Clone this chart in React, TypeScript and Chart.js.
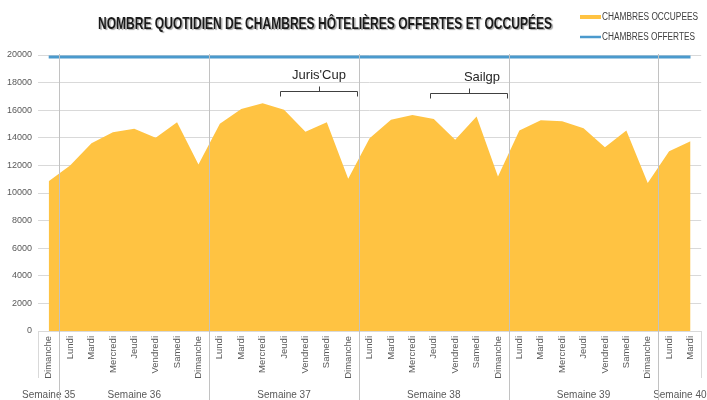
import React, { useEffect, useRef } from 'react';
import { Chart, registerables } from 'chart.js';

Chart.register(...registerables);

const days = [
  'Dimanche',
  'Lundi', 'Mardi', 'Mercredi', 'Jeudi', 'Vendredi', 'Samedi', 'Dimanche',
  'Lundi', 'Mardi', 'Mercredi', 'Jeudi', 'Vendredi', 'Samedi', 'Dimanche',
  'Lundi', 'Mardi', 'Mercredi', 'Jeudi', 'Vendredi', 'Samedi', 'Dimanche',
  'Lundi', 'Mardi', 'Mercredi', 'Jeudi', 'Vendredi', 'Samedi', 'Dimanche',
  'Lundi', 'Mardi',
];
const weekLabels = ['Semaine 35', 'Semaine 36', 'Semaine 37', 'Semaine 38', 'Semaine 39', 'Semaine 40'];
const weekDayCounts = [1, 7, 7, 7, 7, 2];

const occupiedRooms = [
  10850,
  12000, 13610, 14400, 14650, 14000, 15130, 12070,
  15010, 16090, 16500, 16040, 14430, 15130, 11040,
  13970, 15300, 15660, 15370, 13860, 15540, 11200,
  14530, 15270, 15200, 14690, 13320, 14530, 10720,
  13030, 13750,
];
const offeredRooms = [
  19850,
  19850, 19850, 19850, 19850, 19850, 19850, 19850,
  19850, 19850, 19850, 19850, 19850, 19850, 19850,
  19850, 19850, 19850, 19850, 19850, 19850, 19850,
  19850, 19850, 19850, 19850, 19850, 19850, 19850,
  19850, 19850,
];
const yTicks = [0, 2000, 4000, 6000, 8000, 10000, 12000, 14000, 16000, 18000, 20000];

const events = ["Juris'Cup", 'Sailgp'];
const eventStartDay = [11, 18];
const eventEndDay = [14, 21];

const titleText = 'NOMBRE QUOTIDIEN DE CHAMBRES HÔTELIÈRES OFFERTES ET OCCUPÉES';

const AREA_COLOR = '#FFC342';
const LINE_COLOR = '#4B9ACD';
const SEP_COLOR = '#c2c2c2';
const TEXT_COLOR = '#595959';

function drawFitted(ctx: any, text: string, x: number, y: number, targetW: number, align: 'left' | 'center') {
  const w = ctx.measureText(text).width;
  const sx = targetW / w;
  ctx.save();
  ctx.translate(x, y);
  ctx.scale(sx, 1);
  ctx.textAlign = align;
  ctx.fillText(text, 0, 0);
  ctx.restore();
}

const overlayPlugin = {
  id: 'overlay',
  afterDraw(chart: any) {
    const { ctx, chartArea, scales } = chart;
    const xs = scales.x;
    const px = (i: number) => xs.getPixelForValue(i);
    const step = px(1) - px(0);
    ctx.save();

    // week separators + week labels
    ctx.strokeStyle = SEP_COLOR;
    ctx.lineWidth = 1;
    let idx = 0;
    ctx.font = '10px "Liberation Sans"';
    ctx.fillStyle = TEXT_COLOR;
    ctx.textAlign = 'center';
    ctx.textBaseline = 'middle';
    weekDayCounts.forEach((n, w) => {
      const start = idx;
      const end = idx + n - 1;
      const left = w === 0 ? chartArea.left : px(start) - step / 2;
      const right = w === weekDayCounts.length - 1 ? chartArea.right : px(end) + step / 2;
      ctx.fillText(weekLabels[w], (left + right) / 2, 395);
      if (w > 0) {
        const xl = Math.round(left) + 0.5;
        ctx.beginPath();
        ctx.moveTo(xl, chartArea.top - 1);
        ctx.lineTo(xl, 400);
        ctx.stroke();
      }
      idx += n;
    });
    // outer edges of the category axis box
    ctx.strokeStyle = '#d9d9d9';
    [chartArea.left, chartArea.right].forEach((xe: number) => {
      const xl = Math.round(xe) + 0.5;
      ctx.beginPath();
      ctx.moveTo(xl, chartArea.bottom);
      ctx.lineTo(xl, 378);
      ctx.stroke();
    });

    // event brackets
    ctx.strokeStyle = '#404040';
    ctx.lineWidth = 1;
    ctx.fillStyle = '#262626';
    ctx.font = '13px "Liberation Sans"';
    const labelShift = [0, 13];
    const bracketY = [91.5, 93.5];
    events.forEach((name, e) => {
      const l = Math.round(px(eventStartDay[e]) - step * 0.2) + 0.5;
      const r = Math.round(px(eventEndDay[e]) + step * 0.4) + 0.5;
      const y = bracketY[e];
      const c = Math.round((l + r) / 2) + 0.5;
      ctx.beginPath();
      ctx.moveTo(l, y + 5);
      ctx.lineTo(l, y);
      ctx.lineTo(r, y);
      ctx.lineTo(r, y + 5);
      ctx.moveTo(c, y);
      ctx.lineTo(c, y - 5);
      ctx.stroke();
      ctx.fillText(name, (l + r) / 2 + labelShift[e], y - 16);
    });

    // title
    ctx.save();
    ctx.font = 'bold 16.5px "Liberation Sans"';
    ctx.shadowColor = 'rgba(0,0,0,0.35)';
    ctx.shadowOffsetX = 1.5;
    ctx.shadowOffsetY = 1.5;
    ctx.shadowBlur = 1;
    ctx.fillStyle = '#1a1a1a';
    ctx.textBaseline = 'middle';
    drawFitted(ctx, titleText, 325, 24, 454, 'center');
    ctx.restore();

    // legend
    const ds = chart.data.datasets;
    const rows = [
      { label: ds[0].label, color: AREA_COLOR, lw: 4, y: 17 },
      { label: ds[1].label, color: LINE_COLOR, lw: 2.5, y: 37 },
    ];
    ctx.font = '10px "Liberation Sans"';
    ctx.textBaseline = 'middle';
    rows.forEach((r, i) => {
      ctx.strokeStyle = r.color;
      ctx.lineWidth = r.lw;
      ctx.beginPath();
      ctx.moveTo(580, r.y);
      ctx.lineTo(601, r.y);
      ctx.stroke();
      ctx.fillStyle = '#404040';
      drawFitted(ctx, r.label, 602, r.y, i === 0 ? 96 : 93, 'left');
    });

    ctx.restore();
  },
};

export default function App() {
  const canvasRef = useRef<HTMLCanvasElement | null>(null);

  useEffect(() => {
    const canvas = canvasRef.current;
    if (!canvas) return;
    const chart = new Chart(canvas, {
      type: 'line',
      data: {
        labels: days,
        datasets: [
          {
            label: 'CHAMBRES OCCUPEES',
            data: occupiedRooms,
            backgroundColor: AREA_COLOR,
            borderColor: AREA_COLOR,
            borderWidth: 0,
            fill: 'origin',
            pointRadius: 0,
            tension: 0,
            order: 2,
          },
          {
            label: 'CHAMBRES OFFERTES',
            data: offeredRooms,
            borderColor: LINE_COLOR,
            backgroundColor: LINE_COLOR,
            borderWidth: 3,
            fill: false,
            pointRadius: 0,
            tension: 0,
            order: 1,
          },
        ],
      },
      options: {
        responsive: false,
        animation: false,
        layout: { padding: { top: 55, right: 5, left: 0, bottom: 0 } },
        plugins: {
          legend: { display: false },
          title: { display: false },
          tooltip: { enabled: false },
        },
        scales: {
          x: {
            type: 'category',
            offset: true,
            grid: { display: false, drawTicks: false },
            border: { display: true, color: '#d9d9d9', width: 1 },
            ticks: {
              autoSkip: false,
              maxRotation: 90,
              minRotation: 90,
              padding: 5,
              color: TEXT_COLOR,
              font: { family: '"Liberation Sans"', size: 9.5 },
            },
            afterFit: (s: any) => {
              s.height = 69;
            },
          },
          y: {
            min: 0,
            max: 20000,
            afterBuildTicks: (s: any) => {
              s.ticks = yTicks.map((v) => ({ value: v }));
            },
            grid: { color: '#d9d9d9', drawTicks: false },
            border: { display: false },
            ticks: {
              padding: 6,
              color: TEXT_COLOR,
              font: { family: '"Liberation Sans"', size: 9 },
              callback: (v: any) => String(v),
            },
            afterFit: (s: any) => {
              s.width = 38;
            },
          },
        },
      },
      plugins: [overlayPlugin],
    });
    return () => chart.destroy();
  }, []);

  return (
    <div style={{ position: 'absolute', left: 0, top: 0, width: 707, height: 400, background: '#fff' }}>
      <canvas ref={canvasRef} width={707} height={400} />
    </div>
  );
}
